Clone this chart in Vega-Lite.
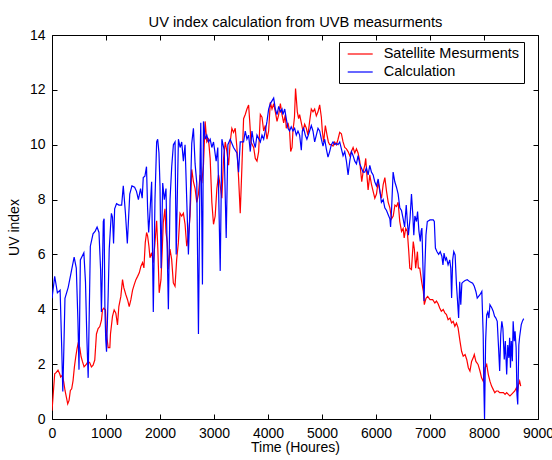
{
  "$schema": "https://vega.github.io/schema/vega-lite/v6.json",
  "width": 486,
  "height": 384,
  "autosize": {"type": "none"},
  "padding": {"left": 52, "top": 35, "right": 14, "bottom": 41},
  "background": "white",
  "config": {
    "view": {"stroke": "black", "strokeWidth": 1},
    "axis": {"grid": false, "domain": false, "tickColor": "black", "tickSize": -5, "tickWidth": 1, "labelColor": "black", "labelFontSize": 14, "labelFont": "Liberation Sans", "titleFont": "Liberation Sans", "titleFontSize": 14, "titleColor": "black", "titleFontWeight": "normal", "labelFlush": false},
    "legend": {"orient": "none", "legendX": 287, "legendY": 7, "strokeColor": "black", "fillColor": "white", "padding": 4, "symbolType": "M-0.47,0H3.1", "symbolSize": 196, "symbolStrokeWidth": 1.2, "labelFontSize": 14.5, "labelFont": "Liberation Sans", "labelColor": "black", "labelOffset": 24.7, "rowPadding": 3, "cornerRadius": 0}
  },
  "datasets": {
    "sat": [
      {"h":0,"v":0.3},{"h":19,"v":0.8},{"h":50,"v":1.65},{"h":80,"v":1.7},{"h":111,"v":1.78},{"h":142,"v":1.65},{"h":161,"v":1.53},{"h":192,"v":1.6},{"h":217,"v":1.35},{"h":241,"v":1.04},{"h":266,"v":0.8},{"h":291,"v":0.55},{"h":316,"v":0.68},{"h":340,"v":1.04},{"h":365,"v":1.1},{"h":390,"v":1.4},{"h":415,"v":1.9},{"h":440,"v":2.27},{"h":464,"v":2.57},{"h":489,"v":2.8},{"h":514,"v":2.6},{"h":539,"v":2.27},{"h":563,"v":2.1},{"h":594,"v":1.9},{"h":638,"v":2.0},{"h":669,"v":2.1},{"h":700,"v":2.05},{"h":730,"v":1.9},{"h":761,"v":1.96},{"h":792,"v":2.15},{"h":823,"v":3.1},{"h":854,"v":3.3},{"h":885,"v":3.37},{"h":916,"v":3.6},{"h":935,"v":3.98},{"h":959,"v":4.04},{"h":990,"v":3.98},{"h":1009,"v":3.1},{"h":1040,"v":2.6},{"h":1071,"v":2.6},{"h":1083,"v":3.1},{"h":1120,"v":3.74},{"h":1151,"v":3.98},{"h":1182,"v":3.86},{"h":1213,"v":3.43},{"h":1238,"v":4.1},{"h":1275,"v":4.47},{"h":1306,"v":5.08},{"h":1331,"v":4.78},{"h":1368,"v":4.53},{"h":1399,"v":4.35},{"h":1430,"v":4.1},{"h":1461,"v":4.35},{"h":1492,"v":4.7},{"h":1523,"v":4.9},{"h":1554,"v":5.08},{"h":1585,"v":5.2},{"h":1616,"v":5.33},{"h":1647,"v":5.57},{"h":1677,"v":5.7},{"h":1702,"v":5.51},{"h":1727,"v":6.43},{"h":1752,"v":6.8},{"h":1770,"v":6.68},{"h":1795,"v":6.3},{"h":1814,"v":5.88},{"h":1845,"v":6.06},{"h":1876,"v":5.7},{"h":1907,"v":6.43},{"h":1938,"v":7.23},{"h":1960,"v":6.2},{"h":1985,"v":4.6},{"h":2018,"v":5.08},{"h":2037,"v":5.94},{"h":2061,"v":7.17},{"h":2092,"v":7.66},{"h":2111,"v":6.8},{"h":2136,"v":6.43},{"h":2154,"v":5.45},{"h":2185,"v":6.19},{"h":2216,"v":5.82},{"h":2247,"v":4.96},{"h":2278,"v":4.84},{"h":2309,"v":5.82},{"h":2340,"v":6.43},{"h":2371,"v":7.5},{"h":2402,"v":7.4},{"h":2433,"v":7.5},{"h":2464,"v":7.1},{"h":2495,"v":6.3},{"h":2526,"v":6.7},{"h":2557,"v":7.4},{"h":2588,"v":9.1},{"h":2619,"v":8.65},{"h":2650,"v":8.4},{"h":2681,"v":7.9},{"h":2712,"v":8.2},{"h":2743,"v":8.9},{"h":2774,"v":8.6},{"h":2805,"v":9.25},{"h":2836,"v":10.85},{"h":2867,"v":10.1},{"h":2898,"v":10.2},{"h":2929,"v":9.5},{"h":2960,"v":7.9},{"h":2991,"v":7.1},{"h":3022,"v":7.4},{"h":3053,"v":8.4},{"h":3084,"v":8.9},{"h":3115,"v":8.5},{"h":3146,"v":8.05},{"h":3177,"v":9.5},{"h":3208,"v":10.1},{"h":3239,"v":9.75},{"h":3270,"v":9.25},{"h":3300,"v":10.1},{"h":3331,"v":10.6},{"h":3362,"v":10.45},{"h":3393,"v":10.6},{"h":3424,"v":9.9},{"h":3455,"v":8.8},{"h":3486,"v":7.5},{"h":3517,"v":9.2},{"h":3548,"v":10.95},{"h":3579,"v":11.1},{"h":3610,"v":11.3},{"h":3641,"v":11.45},{"h":3660,"v":10.9},{"h":3685,"v":10.1},{"h":3734,"v":9.9},{"h":3765,"v":9.5},{"h":3796,"v":9.4},{"h":3827,"v":9.75},{"h":3858,"v":11.1},{"h":3889,"v":11.0},{"h":3920,"v":10.5},{"h":3950,"v":10.7},{"h":3981,"v":10.2},{"h":4012,"v":10.5},{"h":4043,"v":11.55},{"h":4074,"v":11.3},{"h":4105,"v":11.5},{"h":4136,"v":11.2},{"h":4167,"v":10.85},{"h":4198,"v":11.1},{"h":4229,"v":11.5},{"h":4260,"v":11.1},{"h":4290,"v":10.8},{"h":4320,"v":11.1},{"h":4338,"v":10.6},{"h":4370,"v":10.8},{"h":4400,"v":10.5},{"h":4420,"v":9.75},{"h":4445,"v":9.9},{"h":4462,"v":10.5},{"h":4490,"v":11.0},{"h":4510,"v":12.05},{"h":4524,"v":11.7},{"h":4543,"v":11.2},{"h":4567,"v":10.95},{"h":4586,"v":11.1},{"h":4617,"v":10.8},{"h":4648,"v":10.5},{"h":4679,"v":10.75},{"h":4710,"v":10.6},{"h":4740,"v":10.35},{"h":4771,"v":10.85},{"h":4802,"v":11.3},{"h":4833,"v":11.2},{"h":4864,"v":11.3},{"h":4895,"v":11.05},{"h":4926,"v":11.2},{"h":4957,"v":11.45},{"h":4988,"v":11.0},{"h":5006,"v":10.5},{"h":5031,"v":10.1},{"h":5062,"v":10.7},{"h":5093,"v":10.35},{"h":5118,"v":10.1},{"h":5142,"v":10.0},{"h":5173,"v":10.0},{"h":5204,"v":9.95},{"h":5235,"v":10.1},{"h":5266,"v":10.0},{"h":5297,"v":10.2},{"h":5328,"v":10.45},{"h":5359,"v":10.4},{"h":5390,"v":10.1},{"h":5421,"v":9.9},{"h":5452,"v":9.85},{"h":5483,"v":9.75},{"h":5514,"v":9.6},{"h":5545,"v":9.75},{"h":5576,"v":9.9},{"h":5607,"v":9.7},{"h":5638,"v":9.85},{"h":5668,"v":9.7},{"h":5699,"v":9.4},{"h":5718,"v":9.0},{"h":5736,"v":8.65},{"h":5761,"v":9.0},{"h":5792,"v":9.25},{"h":5810,"v":9.5},{"h":5835,"v":8.8},{"h":5854,"v":8.35},{"h":5885,"v":8.9},{"h":5916,"v":8.55},{"h":5947,"v":8.3},{"h":5978,"v":8.05},{"h":6009,"v":8.2},{"h":6040,"v":8.65},{"h":6071,"v":8.3},{"h":6102,"v":8.05},{"h":6133,"v":8.55},{"h":6164,"v":8.8},{"h":6195,"v":8.3},{"h":6226,"v":7.9},{"h":6257,"v":7.7},{"h":6288,"v":7.3},{"h":6319,"v":7.4},{"h":6350,"v":7.8},{"h":6380,"v":7.75},{"h":6410,"v":7.9},{"h":6440,"v":7.2},{"h":6473,"v":6.84},{"h":6503,"v":6.95},{"h":6522,"v":6.6},{"h":6550,"v":6.95},{"h":6580,"v":6.84},{"h":6607,"v":6.1},{"h":6626,"v":5.5},{"h":6657,"v":5.45},{"h":6690,"v":6.47},{"h":6710,"v":6.2},{"h":6735,"v":5.5},{"h":6767,"v":6.1},{"h":6784,"v":5.5},{"h":6810,"v":5.5},{"h":6846,"v":5.0},{"h":6877,"v":4.65},{"h":6895,"v":4.17},{"h":6926,"v":4.4},{"h":6957,"v":4.47},{"h":7000,"v":4.35},{"h":7050,"v":4.35},{"h":7090,"v":4.23},{"h":7120,"v":4.3},{"h":7150,"v":4.2},{"h":7180,"v":4.05},{"h":7210,"v":3.93},{"h":7245,"v":3.99},{"h":7275,"v":3.87},{"h":7305,"v":3.81},{"h":7335,"v":3.62},{"h":7370,"v":3.68},{"h":7400,"v":3.5},{"h":7430,"v":3.56},{"h":7460,"v":3.38},{"h":7490,"v":3.5},{"h":7520,"v":3.32},{"h":7555,"v":2.84},{"h":7585,"v":2.47},{"h":7615,"v":2.29},{"h":7650,"v":2.35},{"h":7680,"v":2.17},{"h":7710,"v":1.87},{"h":7740,"v":1.75},{"h":7770,"v":2.1},{"h":7800,"v":2.23},{"h":7820,"v":2.35},{"h":7850,"v":2.1},{"h":7890,"v":1.99},{"h":7925,"v":1.75},{"h":7955,"v":1.5},{"h":7985,"v":1.38},{"h":8020,"v":1.87},{"h":8050,"v":1.99},{"h":8080,"v":1.62},{"h":8110,"v":1.38},{"h":8140,"v":1.2},{"h":8170,"v":1.08},{"h":8200,"v":0.96},{"h":8230,"v":1.02},{"h":8260,"v":1.02},{"h":8290,"v":0.96},{"h":8320,"v":0.96},{"h":8360,"v":0.96},{"h":8390,"v":0.9},{"h":8420,"v":0.96},{"h":8450,"v":0.9},{"h":8480,"v":0.84},{"h":8510,"v":0.9},{"h":8540,"v":0.96},{"h":8570,"v":1.02},{"h":8600,"v":1.14},{"h":8620,"v":0.96},{"h":8640,"v":1.26},{"h":8660,"v":1.38},{"h":8680,"v":1.2}
    ],
    "calc": [
      {"h":0,"v":4.4},{"h":50,"v":5.2},{"h":100,"v":4.6},{"h":150,"v":4.7},{"h":180,"v":2.6},{"h":200,"v":1.0},{"h":220,"v":2.6},{"h":240,"v":4.4},{"h":300,"v":4.8},{"h":350,"v":5.3},{"h":410,"v":5.9},{"h":450,"v":5.5},{"h":480,"v":3.6},{"h":500,"v":1.8},{"h":525,"v":5.8},{"h":590,"v":6.06},{"h":620,"v":5.0},{"h":645,"v":3.0},{"h":670,"v":1.5},{"h":690,"v":3.9},{"h":710,"v":6.3},{"h":760,"v":6.75},{"h":800,"v":6.85},{"h":835,"v":7.0},{"h":870,"v":6.8},{"h":900,"v":5.45},{"h":915,"v":3.9},{"h":935,"v":5.6},{"h":950,"v":7.2},{"h":965,"v":7.3},{"h":980,"v":4.0},{"h":995,"v":2.9},{"h":1010,"v":2.45},{"h":1040,"v":4.5},{"h":1060,"v":6.2},{"h":1085,"v":7.05},{"h":1100,"v":7.5},{"h":1120,"v":7.35},{"h":1140,"v":6.4},{"h":1160,"v":7.66},{"h":1195,"v":7.85},{"h":1240,"v":7.8},{"h":1290,"v":7.8},{"h":1320,"v":8.5},{"h":1360,"v":7.5},{"h":1395,"v":6.4},{"h":1440,"v":8.2},{"h":1480,"v":8.5},{"h":1530,"v":8.45},{"h":1565,"v":8.3},{"h":1600,"v":8.0},{"h":1640,"v":8.4},{"h":1670,"v":8.05},{"h":1690,"v":8.8},{"h":1720,"v":8.85},{"h":1750,"v":9.2},{"h":1770,"v":7.7},{"h":1790,"v":6.8},{"h":1810,"v":7.4},{"h":1845,"v":8.65},{"h":1876,"v":3.9},{"h":1907,"v":8.0},{"h":1938,"v":10.1},{"h":1957,"v":10.2},{"h":1981,"v":9.7},{"h":2000,"v":8.5},{"h":2020,"v":5.5},{"h":2050,"v":8.6},{"h":2080,"v":8.0},{"h":2111,"v":8.4},{"h":2155,"v":4.0},{"h":2186,"v":8.0},{"h":2217,"v":9.2},{"h":2248,"v":10.0},{"h":2279,"v":10.1},{"h":2300,"v":6.0},{"h":2341,"v":10.2},{"h":2372,"v":9.9},{"h":2402,"v":10.1},{"h":2433,"v":9.4},{"h":2464,"v":10.0},{"h":2495,"v":8.0},{"h":2526,"v":6.0},{"h":2557,"v":7.8},{"h":2588,"v":10.05},{"h":2619,"v":10.6},{"h":2650,"v":9.3},{"h":2681,"v":8.6},{"h":2712,"v":3.1},{"h":2743,"v":9.5},{"h":2755,"v":10.8},{"h":2786,"v":4.9},{"h":2805,"v":10.85},{"h":2836,"v":10.2},{"h":2867,"v":10.35},{"h":2898,"v":10.1},{"h":2929,"v":10.2},{"h":2960,"v":9.9},{"h":2991,"v":10.1},{"h":3040,"v":9.4},{"h":3070,"v":9.9},{"h":3115,"v":5.4},{"h":3146,"v":10.2},{"h":3189,"v":9.8},{"h":3226,"v":6.6},{"h":3257,"v":10.0},{"h":3300,"v":10.2},{"h":3362,"v":9.9},{"h":3424,"v":9.7},{"h":3455,"v":9.0},{"h":3486,"v":10.1},{"h":3548,"v":10.1},{"h":3579,"v":10.5},{"h":3610,"v":10.2},{"h":3641,"v":10.35},{"h":3672,"v":9.75},{"h":3703,"v":10.5},{"h":3734,"v":10.1},{"h":3765,"v":9.9},{"h":3796,"v":10.35},{"h":3858,"v":10.1},{"h":3889,"v":10.35},{"h":3920,"v":10.2},{"h":3950,"v":10.5},{"h":3981,"v":10.85},{"h":4012,"v":11.3},{"h":4043,"v":11.5},{"h":4074,"v":11.6},{"h":4105,"v":11.7},{"h":4136,"v":11.3},{"h":4167,"v":11.1},{"h":4198,"v":11.4},{"h":4229,"v":11.2},{"h":4260,"v":11.3},{"h":4276,"v":11.1},{"h":4310,"v":11.3},{"h":4338,"v":10.95},{"h":4370,"v":10.6},{"h":4400,"v":10.5},{"h":4430,"v":10.65},{"h":4462,"v":10.5},{"h":4493,"v":10.6},{"h":4524,"v":10.35},{"h":4555,"v":10.5},{"h":4586,"v":10.35},{"h":4617,"v":9.8},{"h":4636,"v":10.5},{"h":4660,"v":10.6},{"h":4690,"v":10.35},{"h":4720,"v":10.2},{"h":4747,"v":10.35},{"h":4771,"v":10.5},{"h":4802,"v":10.7},{"h":4833,"v":10.5},{"h":4864,"v":10.1},{"h":4895,"v":10.35},{"h":4926,"v":10.6},{"h":4957,"v":10.5},{"h":4988,"v":10.2},{"h":5019,"v":9.95},{"h":5050,"v":10.2},{"h":5080,"v":9.85},{"h":5111,"v":9.55},{"h":5142,"v":9.75},{"h":5173,"v":10.0},{"h":5204,"v":10.1},{"h":5235,"v":10.0},{"h":5266,"v":10.05},{"h":5297,"v":10.0},{"h":5328,"v":10.1},{"h":5359,"v":9.85},{"h":5390,"v":9.6},{"h":5421,"v":9.75},{"h":5452,"v":9.4},{"h":5483,"v":8.9},{"h":5514,"v":9.4},{"h":5545,"v":9.75},{"h":5576,"v":9.6},{"h":5607,"v":9.4},{"h":5638,"v":9.3},{"h":5668,"v":9.6},{"h":5699,"v":9.3},{"h":5730,"v":9.15},{"h":5761,"v":9.0},{"h":5792,"v":9.0},{"h":5823,"v":9.15},{"h":5854,"v":8.9},{"h":5885,"v":9.25},{"h":5916,"v":9.0},{"h":5947,"v":8.9},{"h":5977,"v":8.65},{"h":6008,"v":8.5},{"h":6040,"v":8.75},{"h":6070,"v":8.35},{"h":6100,"v":7.9},{"h":6133,"v":8.0},{"h":6163,"v":7.7},{"h":6195,"v":7.6},{"h":6226,"v":7.45},{"h":6257,"v":7.3},{"h":6270,"v":7.0},{"h":6290,"v":7.7},{"h":6317,"v":9.0},{"h":6348,"v":8.65},{"h":6379,"v":8.45},{"h":6410,"v":8.2},{"h":6441,"v":7.7},{"h":6472,"v":7.6},{"h":6503,"v":7.3},{"h":6530,"v":7.0},{"h":6560,"v":7.8},{"h":6580,"v":7.2},{"h":6600,"v":6.7},{"h":6630,"v":7.3},{"h":6657,"v":8.2},{"h":6680,"v":7.5},{"h":6700,"v":6.7},{"h":6720,"v":7.4},{"h":6750,"v":7.2},{"h":6770,"v":7.56},{"h":6795,"v":6.85},{"h":6820,"v":6.47},{"h":6835,"v":6.85},{"h":6850,"v":6.96},{"h":6870,"v":5.5},{"h":6890,"v":4.3},{"h":6905,"v":5.5},{"h":6925,"v":6.7},{"h":6950,"v":7.2},{"h":7000,"v":7.26},{"h":7060,"v":7.26},{"h":7080,"v":7.2},{"h":7100,"v":6.23},{"h":7130,"v":6.1},{"h":7160,"v":6.0},{"h":7190,"v":6.1},{"h":7220,"v":5.93},{"h":7240,"v":5.62},{"h":7260,"v":6.05},{"h":7285,"v":5.8},{"h":7305,"v":5.87},{"h":7335,"v":5.62},{"h":7365,"v":5.8},{"h":7385,"v":5.5},{"h":7400,"v":4.41},{"h":7420,"v":5.8},{"h":7440,"v":6.1},{"h":7465,"v":5.98},{"h":7490,"v":4.9},{"h":7510,"v":4.3},{"h":7530,"v":3.68},{"h":7550,"v":5.0},{"h":7570,"v":4.17},{"h":7590,"v":4.95},{"h":7615,"v":5.0},{"h":7650,"v":5.05},{"h":7690,"v":5.08},{"h":7740,"v":5.0},{"h":7790,"v":4.95},{"h":7820,"v":4.84},{"h":7850,"v":4.65},{"h":7875,"v":4.41},{"h":7900,"v":4.47},{"h":7925,"v":4.53},{"h":7960,"v":4.65},{"h":7985,"v":3.08},{"h":7998,"v":1.14},{"h":8010,"v":0.0},{"h":8030,"v":2.84},{"h":8050,"v":3.8},{"h":8070,"v":3.9},{"h":8090,"v":3.68},{"h":8110,"v":4.17},{"h":8145,"v":4.05},{"h":8170,"v":3.93},{"h":8195,"v":3.75},{"h":8220,"v":3.68},{"h":8245,"v":3.56},{"h":8270,"v":2.59},{"h":8290,"v":1.75},{"h":8310,"v":3.08},{"h":8330,"v":3.56},{"h":8350,"v":3.3},{"h":8375,"v":2.17},{"h":8395,"v":2.84},{"h":8420,"v":1.62},{"h":8440,"v":2.7},{"h":8460,"v":2.23},{"h":8475,"v":2.96},{"h":8490,"v":1.87},{"h":8505,"v":2.84},{"h":8525,"v":2.11},{"h":8540,"v":3.56},{"h":8560,"v":2.84},{"h":8575,"v":3.2},{"h":8595,"v":2.6},{"h":8610,"v":0.9},{"h":8625,"v":0.53},{"h":8645,"v":2.7},{"h":8660,"v":3.0},{"h":8690,"v":3.44},{"h":8710,"v":3.56},{"h":8735,"v":3.66}
    ]
  },
  "layer": [
    {
      "data": {"name": "sat"},
      "mark": {"type": "line", "strokeWidth": 1.2, "clip": true},
      "encoding": {
        "x": {"field": "h", "type": "quantitative", "scale": {"domain": [0, 9000], "nice": false}, "axis": {"orient": "bottom", "values": [0,1000,2000,3000,4000,5000,6000,7000,8000,9000], "format": "d", "title": "Time (Houres)", "labelPadding": 12, "titlePadding": 0}},
        "y": {"field": "v", "type": "quantitative", "scale": {"domain": [0, 14], "nice": false}, "axis": {"orient": "left", "values": [0,2,4,6,8,10,12,14], "format": "d", "title": "UV index", "labelPadding": 12, "titlePadding": 8}},
        "color": {"datum": "Satellite Mesurments", "type": "nominal", "scale": {"domain": ["Satellite Mesurments", "Calculation"], "range": ["#ff0000", "#0000ff"]}, "legend": {"title": null}}
      }
    },
    {
      "data": {"name": "calc"},
      "mark": {"type": "line", "strokeWidth": 1.2, "clip": true},
      "encoding": {
        "x": {"field": "h", "type": "quantitative", "axis": null},
        "y": {"field": "v", "type": "quantitative", "axis": null},
        "color": {"datum": "Calculation", "type": "nominal"}
      }
    },
    {
      "data": {"name": "calc"},
      "mark": {"type": "line", "opacity": 0},
      "encoding": {
        "x": {"field": "h", "type": "quantitative", "axis": {"orient": "top", "values": [0,1000,2000,3000,4000,5000,6000,7000,8000,9000], "labels": false, "title": "UV index calculation from UVB measurments", "titleFontSize": 14.7, "titlePadding": 5}},
        "y": {"field": "v", "type": "quantitative", "axis": {"orient": "right", "values": [0,2,4,6,8,10,12,14], "labels": false, "title": null}}
      }
    }
  ],
  "resolve": {"axis": {"x": "independent", "y": "independent"}}
}
